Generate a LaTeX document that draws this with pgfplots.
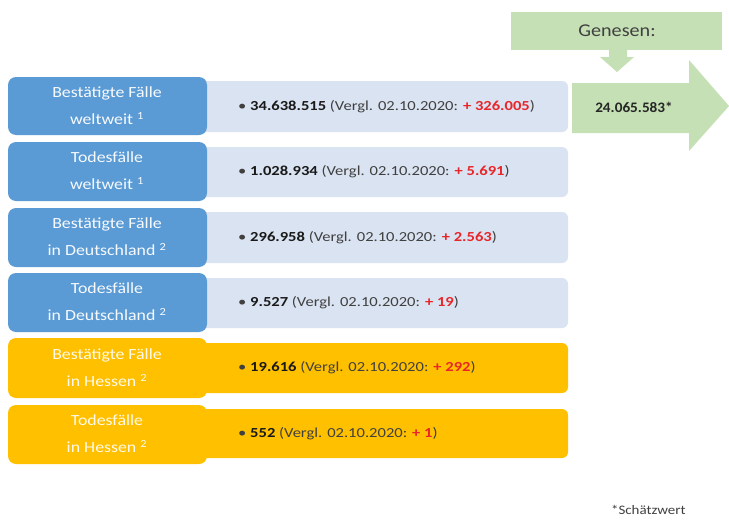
\documentclass[border=0pt]{standalone}
\usepackage{pgfplots}
\pgfplotsset{compat=1.18}
\usepackage{fontspec}
\setmainfont{Carlito}
\definecolor{boxblue}{HTML}{5B9BD5}
\definecolor{boxlight}{HTML}{DAE3F1}
\definecolor{boxyellow}{HTML}{FFC000}
\definecolor{boxgreen}{HTML}{C5E0B4}
\definecolor{txtgray}{HTML}{404040}
\definecolor{txtred}{HTML}{E8262A}
\newcommand{\rowtext}[2]{\textbullet\ \textbf{\textcolor{black!90}{#1}} (Vergl. 02.10.2020: \textcolor{txtred}{\textbf{+ #2}})}
\begin{document}
\begin{tikzpicture}
\begin{axis}[hide axis, scale only axis, width=729pt, height=525pt,
  xmin=0, xmax=729, ymin=0, ymax=525, y dir=reverse, clip=false]
\fill[white] (axis cs:0,0) rectangle (axis cs:729,525);
% right light boxes
\fill[boxlight, rounded corners=6pt] (axis cs:190,81) rectangle (axis cs:568,132);
\fill[boxlight, rounded corners=6pt] (axis cs:190,147) rectangle (axis cs:568,197);
\fill[boxlight, rounded corners=6pt] (axis cs:190,212) rectangle (axis cs:568,263);
\fill[boxlight, rounded corners=6pt] (axis cs:190,278) rectangle (axis cs:568,328);
\fill[boxyellow, rounded corners=6pt] (axis cs:190,343) rectangle (axis cs:568,393);
\fill[boxyellow, rounded corners=6pt] (axis cs:190,409) rectangle (axis cs:568,458);
% left boxes
\fill[boxblue, rounded corners=8pt] (axis cs:8,77) rectangle (axis cs:207,135);
\fill[boxblue, rounded corners=8pt] (axis cs:8,142) rectangle (axis cs:207,201);
\fill[boxblue, rounded corners=8pt] (axis cs:8,208) rectangle (axis cs:207,267);
\fill[boxblue, rounded corners=8pt] (axis cs:8,273) rectangle (axis cs:207,332);
\fill[boxyellow, rounded corners=8pt] (axis cs:8,338) rectangle (axis cs:207,398);
\fill[boxyellow, rounded corners=8pt] (axis cs:8,405) rectangle (axis cs:207,464);
% left labels
\tikzset{lab/.style={text=white!95!boxblue, align=center, xscale=1.15, transform shape, font=\fontsize{15.5}{27}\selectfont}}
\node[lab] at (axis cs:107,105.5) {Bestätigte Fälle\\weltweit \textsuperscript{1}};
\node[lab] at (axis cs:107,171) {Todesfälle\\weltweit \textsuperscript{1}};
\node[lab] at (axis cs:107,237) {Bestätigte Fälle\\in Deutschland \textsuperscript{2}};
\node[lab] at (axis cs:107,302) {Todesfälle\\in Deutschland \textsuperscript{2}};
\node[lab, text=white!92!boxyellow] at (axis cs:107,367.5) {Bestätigte Fälle\\in Hessen \textsuperscript{2}};
\node[lab, text=white!92!boxyellow] at (axis cs:107,434) {Todesfälle\\in Hessen \textsuperscript{2}};
% right texts
\tikzset{val/.style={anchor=west, text=txtgray, xscale=1.2, transform shape, font=\fontsize{13.8}{17}\selectfont, inner sep=0pt}}
\node[val] at (axis cs:238,106.5) {\rowtext{34.638.515}{326.005}};
\node[val] at (axis cs:238,172) {\rowtext{1.028.934}{5.691}};
\node[val] at (axis cs:238,237.5) {\rowtext{296.958}{2.563}};
\node[val] at (axis cs:238,303) {\rowtext{9.527}{19}};
\node[val] at (axis cs:238,368) {\rowtext{19.616}{292}};
\node[val] at (axis cs:238,434) {\rowtext{552}{1}};
% Genesen box and arrows
\fill[boxgreen] (axis cs:511,12) rectangle (axis cs:722,50);
\node[text=txtgray, xscale=1.12, transform shape, font=\fontsize{18}{21}\selectfont] at (axis cs:617,31) {Genesen:};
\fill[boxgreen] (axis cs:609,50) -- (axis cs:627,50) -- (axis cs:627,57) -- (axis cs:634,57)
  -- (axis cs:617,72) -- (axis cs:600,57) -- (axis cs:609,57) -- cycle;
\fill[boxgreen] (axis cs:572,83) -- (axis cs:689,83) -- (axis cs:689,60) -- (axis cs:729,106)
  -- (axis cs:689,151) -- (axis cs:689,133) -- (axis cs:572,133) -- cycle;
\node[text=black!85, xscale=1.05, transform shape, font=\fontsize{14.5}{17}\selectfont\bfseries] at (axis cs:634,107) {24.065.583*};
\node[text=txtgray, xscale=1.15, transform shape, font=\fontsize{13}{15}\selectfont, anchor=west] at (axis cs:607,510) {*Schätzwert};
\end{axis}
\end{tikzpicture}
\end{document}
